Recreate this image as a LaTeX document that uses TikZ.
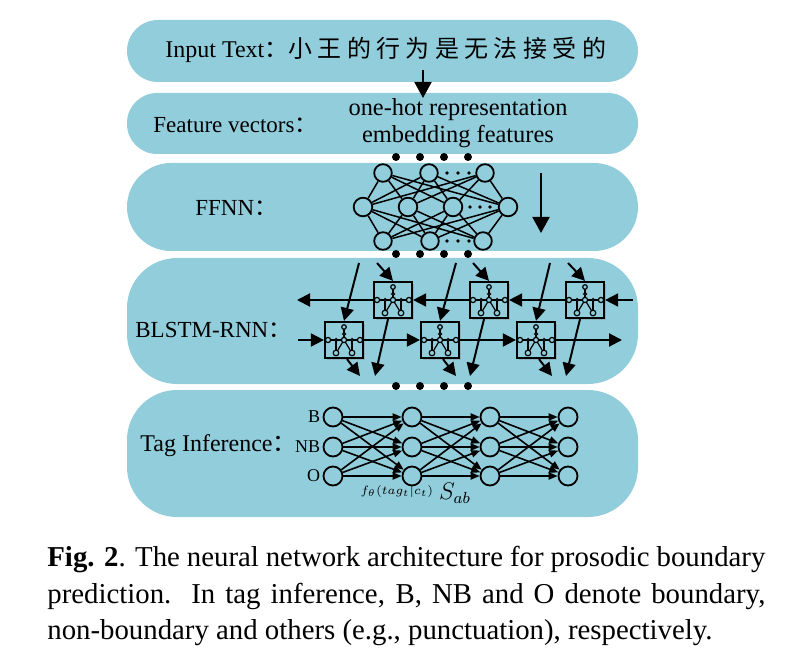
\documentclass[tikz,border=0pt]{standalone}
\usepackage{fontspec}
\setmainfont{Liberation Serif}
\newfontfamily\cjk{Noto Sans CJK SC}
\usetikzlibrary{arrows.meta,shadows}
\definecolor{bandblue}{HTML}{92CDDC}

\newcommand{\cellicon}[1]{
  \begin{scope}[shift={(#1)}, line width=0.6pt]
    \draw (-16,0) -- (16,0);
    \draw (0,-13) -- (0,0);
    \draw (0,0) -- (-8,13) (0,0) -- (8,13);
    \draw (-8,0) -- (-8,13) (8,0) -- (8,13);
    \foreach \p in {(-16,0),(16,0),(0,0)} {
      \draw[fill=bandblue] \p circle (2.6);
    }
    \foreach \p in {(-8,13),(8,13)} {
      \draw[fill=bandblue] \p circle (2.8);
    }
    \draw[fill=bandblue] (0,-13) circle (2.3);
    \foreach \p in {(-8,0),(8,0),(0,-6)} {
      \draw[fill=bandblue] \p circle (1.4);
    }
  \end{scope}
}

\begin{document}
\begin{tikzpicture}[x=0.5pt, y=-0.5pt,
    lbl/.style={inner sep=0pt, font=\fontsize{11.5}{13}\selectfont},
    band/.style={fill=bandblue, draw=none},
    neuron/.style={circle, draw, line width=0.9pt, fill=bandblue, minimum size=8.8pt, inner sep=0pt},
    tag/.style={circle, draw, line width=0.9pt, fill=bandblue, minimum size=9.5pt, inner sep=0pt},
    cellbox/.style={draw, line width=1.1pt, fill=bandblue, minimum width=19pt, minimum height=18pt, inner sep=0pt,
      drop shadow={shadow xshift=1pt, shadow yshift=-1.2pt, opacity=0.35}},
    bigarrow/.style={line width=1pt, -{Triangle[width=8.5pt,length=8pt]}},
    lstm/.style={line width=1pt, -{Triangle[width=6.5pt,length=6.5pt]}},
    tagarrow/.style={line width=0.8pt, -{Triangle[width=3.6pt,length=4.5pt]}},
    ffline/.style={line width=0.75pt}]
  \useasboundingbox (0,0) rectangle (798,663);

  % bands
  \draw[band, rounded corners=15.5pt] (127,20) rectangle (638,82);
  \draw[band, rounded corners=15pt] (127,93) rectangle (638,154);
  \draw[band, rounded corners=22pt] (127,163) rectangle (638,251);
  \draw[band, rounded corners=25pt] (127,258) rectangle (638,384);
  \draw[band, rounded corners=25pt] (127,390) rectangle (638,517);

  % input and features
  \node[lbl, anchor=west, font=\fontsize{12}{14}\selectfont] (intext) at (165,50)
    {Input Text{\cjk ：小 王 的 行 为 是 无 法 接 受 的}};
  \coordinate (inarrow) at (423,70);
  \coordinate (featin) at (423,98);
  \draw[bigarrow] (inarrow) -- (featin);
  \node[lbl, anchor=west] (feat) at (153,125) {Feature vectors{\cjk ：}};
  \node[lbl, font=\fontsize{12.2}{14}\selectfont] (onehot) at (458,110) {one-hot representation};
  \node[lbl, font=\fontsize{12.2}{14}\selectfont] (embed) at (458,137) {embedding features};

  % dots between layers
  \foreach \y in {157,254,386} {
    \foreach \x in {396,420,444,468} {
      \fill (\x,\y) circle (4);
    }
  }

  % FFNN
  \node[lbl, anchor=west] (ffnn) at (195,208) {FFNN{\cjk ：}};
  \foreach \x [count=\i] in {383,429,485} {
    \node[neuron] (ft\i) at (\x,173) {};
  }
  \foreach \x [count=\i] in {363,408,453,508} {
    \node[neuron, minimum size=9.3pt] (fm\i) at (\x,207) {};
  }
  \foreach \x [count=\i] in {383,430,483} {
    \node[neuron] (fb\i) at (\x,241) {};
  }
  \foreach \i in {1,2,3} {
    \foreach \j in {1,...,4} {
      \draw[ffline] (ft\i) -- (fm\j);
      \draw[ffline] (fm\j) -- (fb\i);
    }
  }
  \foreach \x in {447,458,469} {
    \fill (\x,173) circle (1.8);
    \fill (\x,241) circle (1.8);
  }
  \foreach \x in {470,480,490} {
    \fill (\x,207) circle (1.8);
  }
  \coordinate (ffstart) at (541,173);
  \coordinate (ffend) at (541,233);
  \draw[bigarrow] (ffstart) -- (ffend);

  % BLSTM-RNN
  \node[lbl, anchor=west] (blstm) at (135,330) {BLSTM-RNN{\cjk ：}};
  \foreach \x [count=\i] in {393,489,585} {
    \node[cellbox] (up\i) at (\x,300) {};
  }
  \foreach \x [count=\i] in {344,440,536} {
    \node[cellbox] (dn\i) at (\x,340) {};
  }
  \foreach \n in {up1,up2,up3,dn1,dn2,dn3} {
    \cellicon{\n}
  }
  \coordinate (bwin) at (633,300);
  \coordinate (bwout) at (297,300);
  \draw[lstm] (bwin) -- (up3.east);
  \draw[lstm] (up3.west) -- (up2.east);
  \draw[lstm] (up2.west) -- (up1.east);
  \draw[lstm] (up1.west) -- (bwout);
  \coordinate (fwin) at (298,340);
  \coordinate (fwout) at (622,340);
  \draw[lstm] (fwin) -- (dn1.west);
  \draw[lstm] (dn1.east) -- (dn2.west);
  \draw[lstm] (dn2.east) -- (dn3.west);
  \draw[lstm] (dn3.east) -- (fwout);
  \foreach \i/\x in {1/359,2/456,3/550} {
    \coordinate (din\i) at (\x,263);
    \draw[lstm] (din\i) -- (dn\i.north);
  }
  \foreach \i/\x in {1/377,2/473,3/568} {
    \coordinate (uin\i) at (\x,263);
    \draw[lstm] (uin\i) -- (up\i.north);
  }
  \foreach \i/\x in {1/375,2/470,3/566} {
    \coordinate (uout\i) at (\x,376);
    \draw[lstm] ([xshift=-2.5pt]up\i.south) -- (uout\i);
  }
  \foreach \i/\x in {1/360,2/456,3/552} {
    \coordinate (dout\i) at (\x,376);
    \draw[lstm] ([xshift=1.5pt]dn\i.south) -- (dout\i);
  }

  % tag inference
  \node[lbl, anchor=west, font=\fontsize{12}{14}\selectfont] (taginf) at (140,446) {Tag Inference{\cjk ：}};
  \foreach \x [count=\c] in {333,412,490,568} {
    \foreach \y [count=\r] in {417,447,476} {
      \node[tag] (t\c-\r) at (\x,\y) {};
    }
  }
  \foreach \c [evaluate=\c as \n using int(\c+1)] in {1,2,3} {
    \foreach \r in {1,2,3} {
      \foreach \s in {1,2,3} {
        \draw[tagarrow] (t\c-\r) -- (t\n-\s);
      }
    }
  }
  \node[lbl, anchor=east, font=\fontsize{9}{10}\selectfont] (lblb) at ([xshift=-1pt]t1-1.west) {B};
  \node[lbl, anchor=east, font=\fontsize{9}{10}\selectfont] (lblnb) at ([xshift=-1pt]t1-2.west) {NB};
  \node[lbl, anchor=east, font=\fontsize{9}{10}\selectfont] (lblo) at ([xshift=-1pt]t1-3.west) {O};
  \node[lbl, font=\fontsize{6.5}{8}\selectfont] (ftheta) at (397,491) {$f_\theta(tag_t|c_t)$};
  \node[lbl, font=\fontsize{12}{14}\selectfont] (sab) at (455,493) {$S_{ab}$};

  % caption
  \node[anchor=north west, inner sep=0pt, text width=359pt, align=justify,
    font=\fontsize{14.4}{18.25}\selectfont] (caption) at (47,546)
    {\textbf{Fig. 2}. The neural network architecture for prosodic boundary\linebreak
     prediction.\ \ In tag inference, B, NB and O denote boundary,\linebreak
     non-boundary and others (e.g., punctuation), respectively.};
\end{tikzpicture}
\end{document}
